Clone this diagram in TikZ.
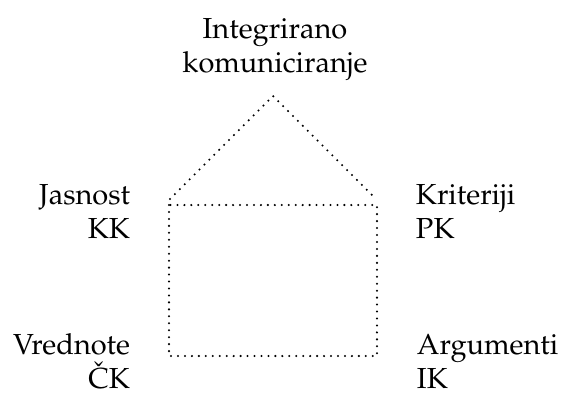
\documentclass[tikz,border=0pt]{standalone}
\usepackage[T1]{fontenc}
\usepackage{mathpazo}
\begin{document}
\begin{tikzpicture}[
        x=0.345pt,
        y=-0.345pt,
        every node/.style={inner sep=0pt, outer sep=0pt},
        line width=0.8pt,
        wall/.style={dash pattern=on 0pt off 2.4pt, line cap=round},
        font=\fontsize{10}{11.5}\selectfont
        ]
        \useasboundingbox (0,0) rectangle (562,392);

        % nodes
        \node[align=center, anchor=base] (ik) at (275,72) {Integrirano\\komuniciranje};

        \node[align=right, anchor=base east] (kk) at (130,238) {Jasnost\\KK};
        \node[align=left, anchor=base west] (pk) at (416,238) {Kriteriji\\PK};

        \node[align=right, anchor=base east] (ck) at (130,388) {Vrednote\\\v{C}K};
        \node[align=left, anchor=base west] (ak) at (417,388) {Argumenti\\IK};

        % house
        \coordinate (roof) at (273,96);
        \coordinate (eaveL) at (170,199);
        \coordinate (eaveR) at (376,199);
        \coordinate (nw) at (169,205);
        \coordinate (se) at (377,356);

        \draw[wall] (eaveL) -- (roof) -- (eaveR);
        \draw[wall] (nw) rectangle (se);

\end{tikzpicture}
\end{document}
